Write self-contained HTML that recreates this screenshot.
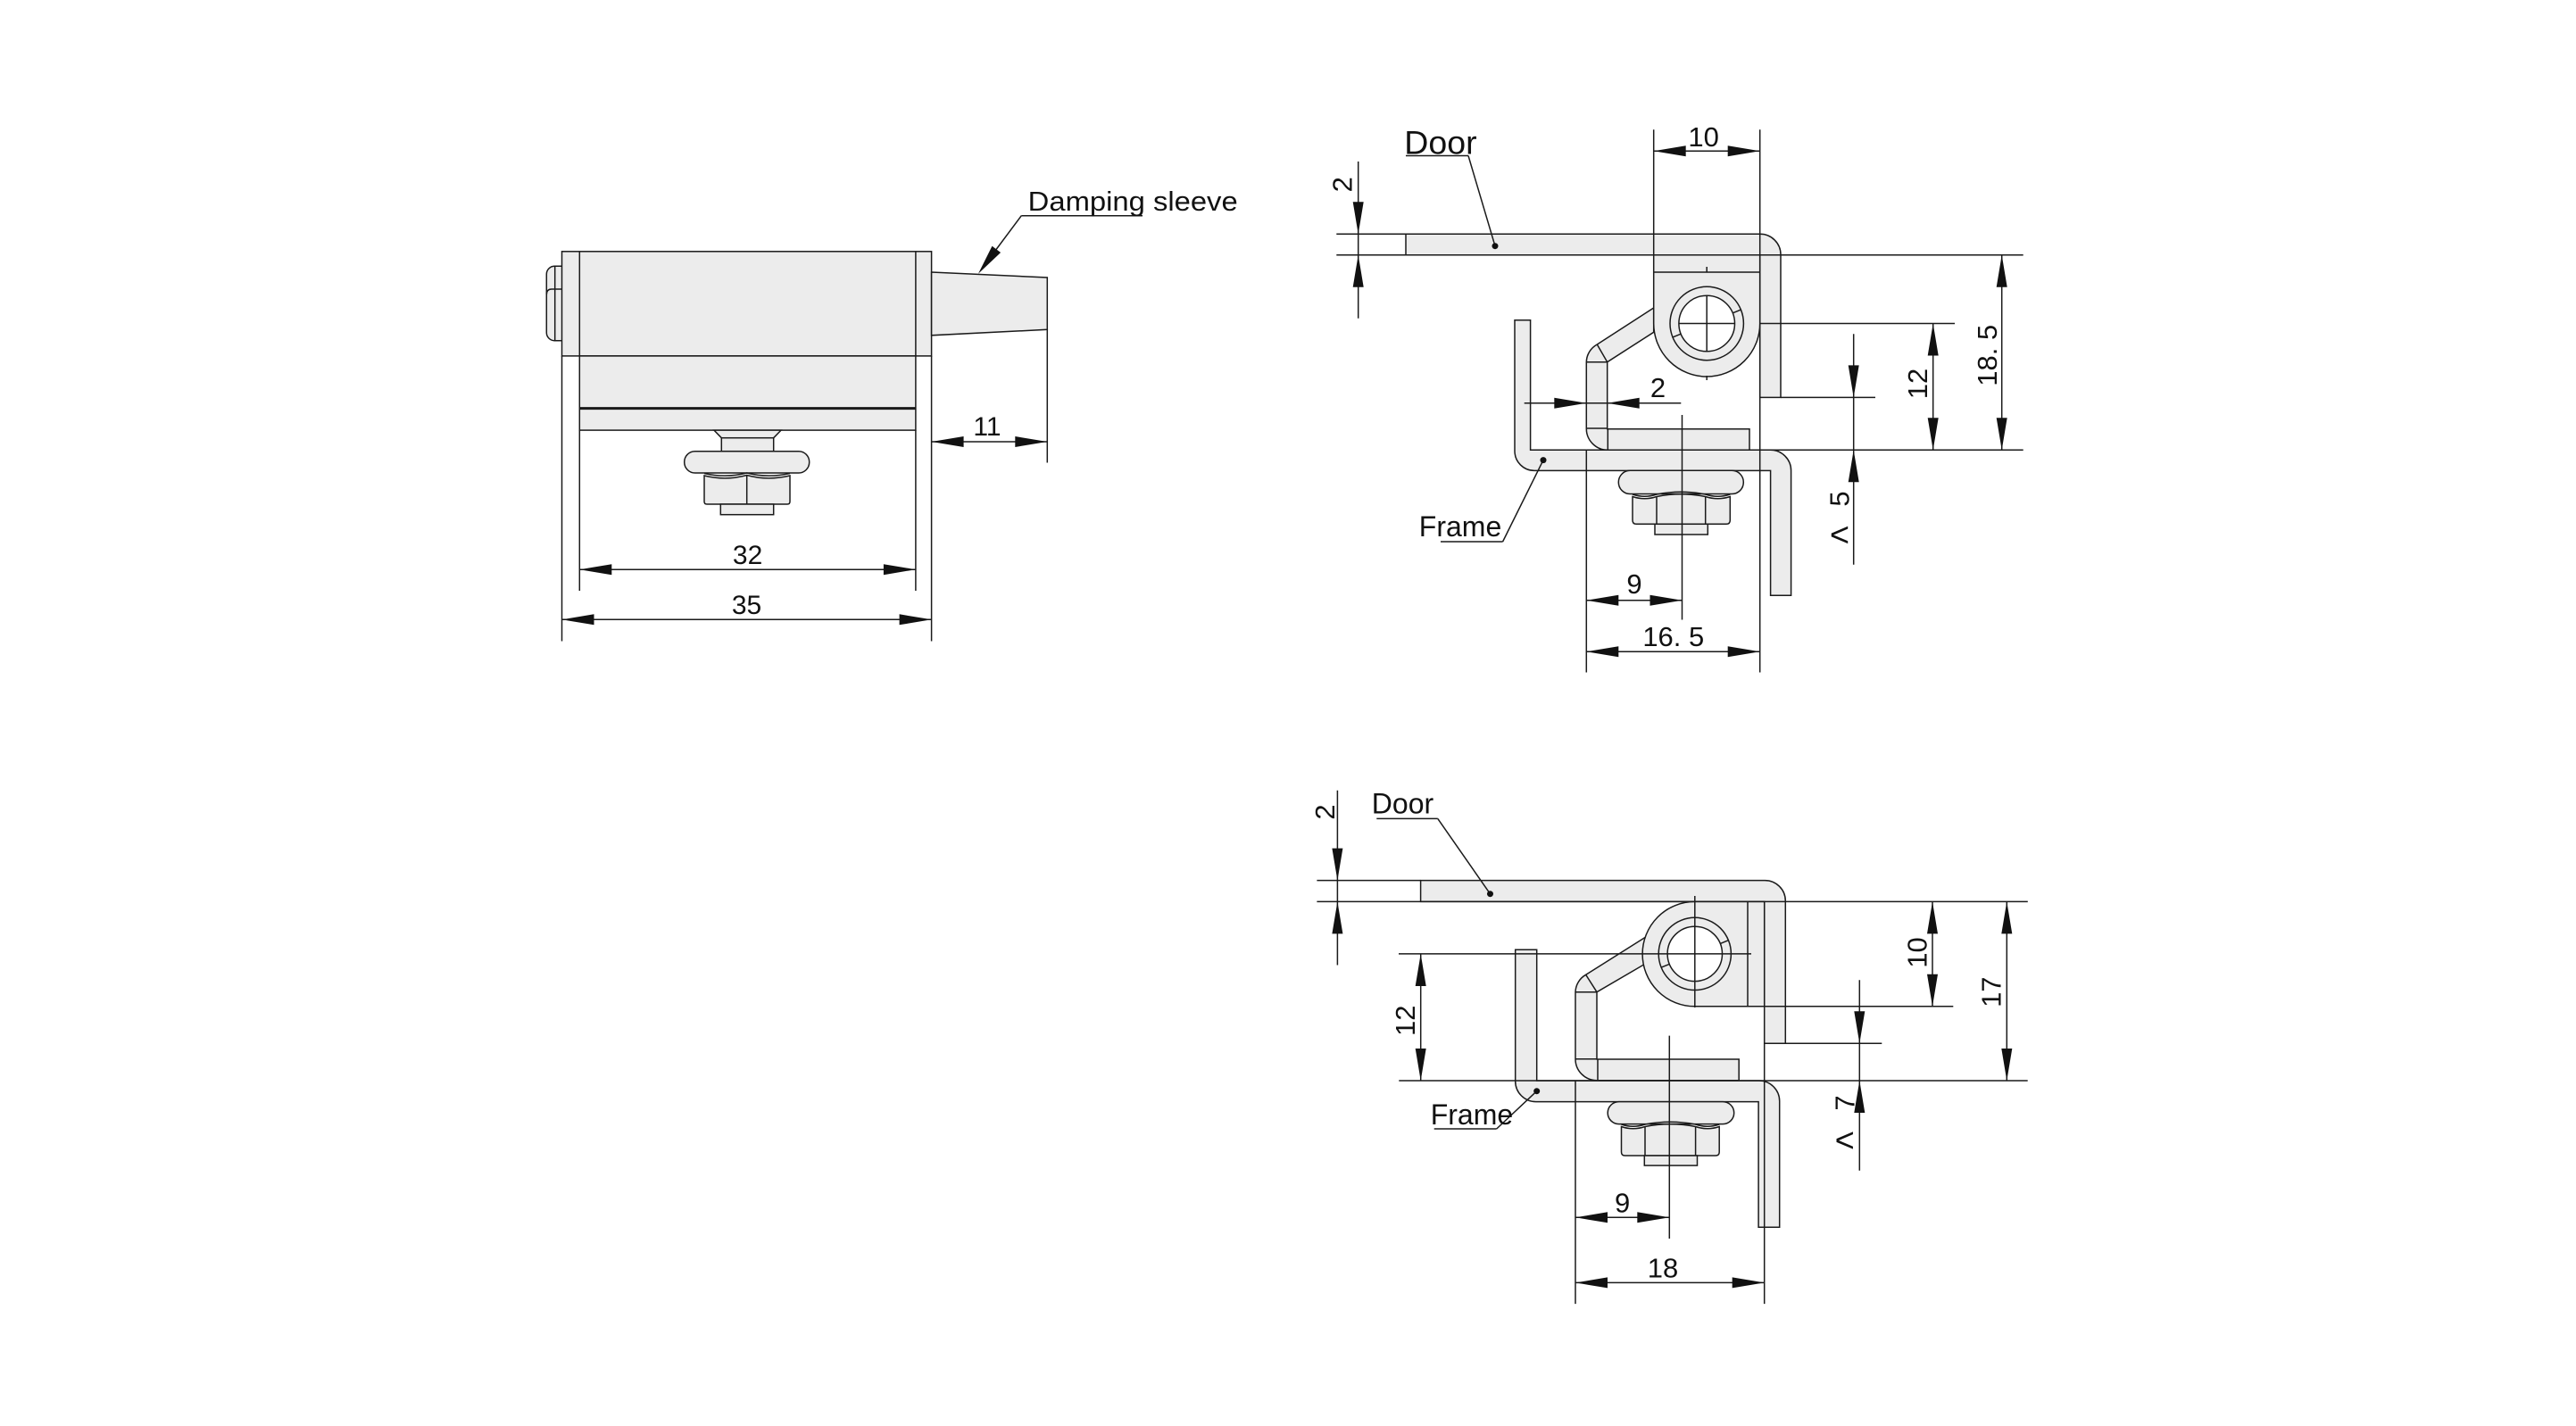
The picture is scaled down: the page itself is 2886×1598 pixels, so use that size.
<!DOCTYPE html>
<html><head><meta charset="utf-8"><style>
html,body{margin:0;padding:0;background:#fff;}
svg{display:block;}
text{font-family:"Liberation Sans",Arial,sans-serif;fill:#111;stroke:none;}
.p{fill:#ececec;stroke:#1a1a1a;stroke-width:1.5;}
.w{fill:#fff;stroke:#1a1a1a;stroke-width:1.5;}
.a{fill:#111;stroke:none;}
.d{font-size:31px;}
.r{font-size:31px;text-anchor:middle;dominant-baseline:central;}
.m{text-anchor:middle;}
</style></head><body>
<svg width="2886" height="1598" viewBox="0 0 2886 1598" xmlns="http://www.w3.org/2000/svg">
<rect x="0" y="0" width="2886" height="1598" fill="#fff"/>

<!-- ================= VIEW 1 ================= -->
<g>
<path class="p" d="M630,298.3 H621 A9,9 0 0 0 612.3,307.3 V372.7 A9,9 0 0 0 621,381.7 H630 Z"/>
<rect class="p" x="629.5" y="281.8" width="414.1" height="117.1"/>
<rect class="p" x="649.3" y="398.9" width="376.6" height="83.2"/>
<polygon class="p" points="1043.6,305 1173.3,311 1173.3,369.3 1043.6,375.8"/>
<!-- nut -->
<polygon class="p" points="800,482.1 875,482.1 866.7,490.7 808.3,490.7"/>
<rect class="p" x="808.3" y="490.7" width="58.4" height="15"/>
<rect class="p" x="766.7" y="505.7" width="140" height="24.3" rx="12" ry="12"/>
<path class="p" d="M789,533 Q813,539 836.7,532.5 Q860,539 885,533 V562 Q885,565 882,565 H792 Q789,565 789,562 Z"/>
<rect class="p" x="807.3" y="565" width="59.4" height="11.7"/>
</g>
<g fill="none" stroke="#1a1a1a" stroke-width="1.5">
<line x1="621.7" y1="298.3" x2="621.7" y2="381.7"/>
<path d="M612.3,330 Q612.3,324 618,324 H630"/>
<line x1="649.3" y1="281.8" x2="649.3" y2="398.9"/>
<line x1="1025.9" y1="281.8" x2="1025.9" y2="398.9"/>
<line x1="649.3" y1="457.6" x2="1025.9" y2="457.6" stroke-width="3"/>
<line x1="629.5" y1="398.9" x2="629.5" y2="718.5"/>
<line x1="1043.6" y1="398.9" x2="1043.6" y2="718.5"/>
<line x1="649.3" y1="482.1" x2="649.3" y2="662"/>
<line x1="1025.9" y1="482.1" x2="1025.9" y2="662"/>
<line x1="1173.3" y1="369.3" x2="1173.3" y2="518.5"/>
<line x1="836.7" y1="532.5" x2="836.7" y2="565"/>
<path d="M789,530.5 Q813,536 836.7,530 Q860,536 885,530.5"/>
<!-- dims -->
<line x1="1043.6" y1="495" x2="1173.3" y2="495"/>
<line x1="649.3" y1="638.2" x2="1025.9" y2="638.2"/>
<line x1="629.5" y1="694.3" x2="1043.6" y2="694.3"/>
<!-- damping leader -->
<line x1="1144.3" y1="241.7" x2="1280" y2="241.7"/>
<line x1="1144.3" y1="241.7" x2="1112" y2="285"/>
</g>
<g class="a">
<polygon points="1043.6,495 1079.6,489 1079.6,501"/>
<polygon points="1173.3,495 1137.3,489 1137.3,501"/>
<polygon points="649.3,638.2 685.3,632.2 685.3,644.2"/>
<polygon points="1025.9,638.2 989.9,632.2 989.9,644.2"/>
<polygon points="629.5,694.3 665.5,688.3 665.5,700.3"/>
<polygon points="1043.6,694.3 1007.6,688.3 1007.6,700.3"/>
<polygon points="1096,306.7 1121.1,283 1111.5,275.8"/>
</g>
<text class="m" x="1106" y="487.8" font-size="30">11</text>
<text class="m" x="837.6" y="631.8" font-size="30">32</text>
<text class="m" x="836.5" y="687.8" font-size="30">35</text>
<text x="1151.7" y="236" font-size="31" textLength="235" lengthAdjust="spacingAndGlyphs">Damping sleeve</text>

<!-- ================= VIEW 2 ================= -->
<g>
<path class="p" d="M1852.7,345 L1789.3,386 A23,23 0 0 0 1777.3,405.7 V480 A24,24 0 0 0 1801.3,504.3 H1960 V480.7 H1800.7 V405.7 L1852.7,372.3 Z"/>
<path class="p" d="M1697,358.7 H1714.6 V504.3 H1983.6 A23,23 0 0 1 2006.6,527.3 V667.2 H1983.6 V527.4 H1719 A22,22 0 0 1 1697,505.4 Z"/>
<path class="p" d="M1575,262.3 H1972 A23,23 0 0 1 1995,285.3 V445.4 H1971.7 V285.7 H1575 Z"/>
<path class="p" d="M1852.7,285.7 H1971.7 V362.5 A59.5,59.5 0 0 1 1852.7,362.5 Z"/>
<circle class="p" cx="1912.2" cy="362.5" r="41.2"/>
<circle class="w" cx="1912.2" cy="362.5" r="31.3"/>
<!-- nut -->
<rect class="p" x="1813.3" y="527.3" width="140" height="26.2" rx="13" ry="13"/>
<path class="p" d="M1829,556.5 Q1842.5,561 1856,556.5 Q1883.5,551 1910.7,556.5 Q1924.5,561 1938.3,556.5 V583 Q1938.3,587.3 1934,587.3 H1833.3 Q1829,587.3 1829,583 Z"/>
<rect class="p" x="1854" y="587.3" width="59.3" height="11.7"/>
</g>
<g fill="none" stroke="#1a1a1a" stroke-width="1.5">
<line x1="1789.3" y1="386" x2="1800.7" y2="405.7"/>
<line x1="1777.3" y1="405.7" x2="1800.7" y2="405.7"/>
<line x1="1777.3" y1="480" x2="1801.3" y2="480"/>
<line x1="1801.3" y1="480.7" x2="1801.3" y2="504.3"/>
<line x1="1852.7" y1="305" x2="1971.7" y2="305"/>
<line x1="1941.2" y1="350.8" x2="1950.4" y2="347.1"/>
<line x1="1883.2" y1="374.2" x2="1874" y2="377.9"/>
<line x1="1880.9" y1="362.5" x2="1943.5" y2="362.5"/>
<line x1="1912.2" y1="331.2" x2="1912.2" y2="393.8"/>
<line x1="1912.2" y1="299" x2="1912.2" y2="305"/>
<line x1="1912.2" y1="421" x2="1912.2" y2="426"/>
<line x1="1856" y1="556.5" x2="1856" y2="587.3"/>
<line x1="1910.7" y1="556.5" x2="1910.7" y2="587.3"/>
<path d="M1829,554 Q1842.5,558.5 1856,554 Q1883.5,548.5 1910.7,554 Q1924.5,558.5 1938.3,554"/>
<line x1="1497.3" y1="262.3" x2="1575" y2="262.3"/>
<line x1="1497.3" y1="285.7" x2="2266.7" y2="285.7"/>
<line x1="1852.7" y1="145.3" x2="1852.7" y2="285.7"/>
<line x1="1971.7" y1="145.3" x2="1971.7" y2="753.5"/>
<line x1="1971.7" y1="362.5" x2="2190" y2="362.5"/>
<line x1="1995" y1="445.4" x2="2101" y2="445.4"/>
<line x1="1714.6" y1="504.3" x2="2266.7" y2="504.3"/>
<line x1="1777.3" y1="504.3" x2="1777.3" y2="753.5"/>
<line x1="1884.5" y1="465" x2="1884.5" y2="694.5"/>
<!-- dims -->
<line x1="1521.7" y1="181" x2="1521.7" y2="356.7"/>
<line x1="1852.7" y1="169.2" x2="1971.7" y2="169.2"/>
<line x1="2165.7" y1="362.5" x2="2165.7" y2="504.3"/>
<line x1="2242.7" y1="285.7" x2="2242.7" y2="504.3"/>
<line x1="2076.7" y1="374.3" x2="2076.7" y2="632.7"/>
<line x1="1707.7" y1="451.7" x2="1883.3" y2="451.7"/>
<line x1="1777.3" y1="672.7" x2="1884.5" y2="672.7"/>
<line x1="1777.3" y1="730.3" x2="1971.7" y2="730.3"/>
<!-- leaders -->
<line x1="1575" y1="174.5" x2="1645" y2="174.5"/>
<line x1="1645" y1="174.5" x2="1675" y2="275.7"/>
<line x1="1614" y1="607" x2="1683.6" y2="607"/>
<line x1="1683.6" y1="607" x2="1729" y2="515.6"/>
</g>
<g class="a">
<circle cx="1675" cy="275.7" r="3.5"/>
<circle cx="1729" cy="515.6" r="3.5"/>
<polygon points="1521.7,262.3 1515.7,226.3 1527.7,226.3"/>
<polygon points="1521.7,285.7 1515.7,321.7 1527.7,321.7"/>
<polygon points="1852.7,169.2 1888.7,163.2 1888.7,175.2"/>
<polygon points="1971.7,169.2 1935.7,163.2 1935.7,175.2"/>
<polygon points="2165.7,362.5 2159.7,398.5 2171.7,398.5"/>
<polygon points="2165.7,504.3 2159.7,468.3 2171.7,468.3"/>
<polygon points="2242.7,285.7 2236.7,321.7 2248.7,321.7"/>
<polygon points="2242.7,504.3 2236.7,468.3 2248.7,468.3"/>
<polygon points="2076.7,445.4 2070.7,409.4 2082.7,409.4"/>
<polygon points="2076.7,504.3 2070.7,540.3 2082.7,540.3"/>
<polygon points="1777.3,451.7 1741.3,445.7 1741.3,457.7"/>
<polygon points="1800.7,451.7 1836.7,445.7 1836.7,457.7"/>
<polygon points="1777.3,672.7 1813.3,666.7 1813.3,678.7"/>
<polygon points="1884.5,672.7 1848.5,666.7 1848.5,678.7"/>
<polygon points="1777.3,730.3 1813.3,724.3 1813.3,736.3"/>
<polygon points="1971.7,730.3 1935.7,724.3 1935.7,736.3"/>
</g>
<text x="1573.3" y="172.3" font-size="37.5">Door</text>
<text x="1589.8" y="601" font-size="32">Frame</text>
<text class="r" transform="translate(1504 206.7) rotate(-90)">2</text>
<text class="m d" x="1908.6" y="164">10</text>
<text class="r" transform="translate(2148.7 430) rotate(-90)">12</text>
<text class="r" transform="translate(2226.7 398.3) rotate(-90)">18. 5</text>
<text class="r" transform="translate(2061 559) rotate(-90)">5</text>
<text class="m" x="2061" y="612" font-size="38">&lt;</text>
<text class="m d" x="1857.5" y="445">2</text>
<text class="m d" x="1831" y="665">9</text>
<text class="m d" x="1874.8" y="724">16. 5</text>

<!-- ================= VIEW 3 ================= -->
<g>
<path class="p" d="M1844,1049.9 L1776.7,1092.3 A23,23 0 0 0 1765,1111.7 V1186.7 A24,24 0 0 0 1789,1210.7 H1948.2 V1187 H1789 V1111.7 L1844,1079.6 Z"/>
<path class="p" d="M1697.7,1064.3 H1721.7 V1211 H1970.7 A23,23 0 0 1 1993.7,1234 V1375.3 H1970.1 V1234.6 H1720.7 A23,23 0 0 1 1697.7,1211.6 Z"/>
<path class="p" d="M1591.6,986.6 H1977.3 A23,23 0 0 1 2000.3,1009.6 V1169.3 H1976.7 V1010.4 H1591.6 Z"/>
<path class="p" d="M1898.8,1010.4 H1976.7 V1127.8 H1898.8 A58.7,58.7 0 0 1 1898.8,1010.4 Z"/>
<circle class="p" cx="1898.8" cy="1068.9" r="40.6"/>
<circle class="w" cx="1898.8" cy="1068.9" r="30.7"/>
<!-- nut -->
<rect class="p" x="1801.2" y="1234.6" width="141.5" height="25" rx="12.5" ry="12.5"/>
<path class="p" d="M1816.5,1262.5 Q1829.5,1267 1843,1262.5 Q1871.3,1257 1899.6,1262.5 Q1913,1267 1926.2,1262.5 V1291 Q1926.2,1295 1922,1295 H1820.5 Q1816.5,1295 1816.5,1291 Z"/>
<rect class="p" x="1842.3" y="1295" width="59.2" height="11.1"/>
</g>
<g fill="none" stroke="#1a1a1a" stroke-width="1.5">
<line x1="1776.7" y1="1092.3" x2="1789" y2="1111.7"/>
<line x1="1765" y1="1111.7" x2="1789" y2="1111.7"/>
<line x1="1765" y1="1186.7" x2="1789" y2="1186.7"/>
<line x1="1790" y1="1187" x2="1790" y2="1210.7"/>
<line x1="1958" y1="1010.4" x2="1958" y2="1127.8"/>
<line x1="1927.3" y1="1057.4" x2="1936.4" y2="1053.7"/>
<line x1="1870.3" y1="1080.4" x2="1861.2" y2="1084.1"/>
<line x1="1898.8" y1="1004" x2="1898.8" y2="1129"/>
<line x1="1567" y1="1068.9" x2="1962" y2="1068.9"/>
<line x1="1843" y1="1262.5" x2="1843" y2="1295"/>
<line x1="1899.6" y1="1262.5" x2="1899.6" y2="1295"/>
<path d="M1816.5,1260 Q1829.5,1264.5 1843,1260 Q1871.3,1254.5 1899.6,1260 Q1913,1264.5 1926.2,1260"/>
<line x1="1475.4" y1="986.6" x2="1591.6" y2="986.6"/>
<line x1="1475.4" y1="1010.4" x2="2271.8" y2="1010.4"/>
<line x1="1870.3" y1="1160.6" x2="1870.3" y2="1388"/>
<line x1="1765" y1="1211" x2="1765" y2="1461.1"/>
<line x1="1976.7" y1="1169.3" x2="1976.7" y2="1461.1"/>
<line x1="1898.8" y1="1127.8" x2="2188.3" y2="1127.8"/>
<line x1="2000.3" y1="1169.3" x2="2108.3" y2="1169.3"/>
<line x1="1567.3" y1="1211" x2="2271.7" y2="1211"/>
<!-- dims -->
<line x1="1498.4" y1="885.8" x2="1498.4" y2="1081.5"/>
<line x1="1591.7" y1="1069" x2="1591.7" y2="1211"/>
<line x1="2165" y1="1010.4" x2="2165" y2="1127.8"/>
<line x1="2248.3" y1="1010.4" x2="2248.3" y2="1211"/>
<line x1="2083.3" y1="1098.3" x2="2083.3" y2="1311.7"/>
<line x1="1765" y1="1364.3" x2="1870.3" y2="1364.3"/>
<line x1="1765" y1="1437.4" x2="1976.7" y2="1437.4"/>
<!-- leaders -->
<line x1="1542.3" y1="917.4" x2="1610.8" y2="917.4"/>
<line x1="1610.8" y1="917.4" x2="1669.5" y2="1001.7"/>
<line x1="1606.7" y1="1265" x2="1676.7" y2="1265"/>
<line x1="1676.7" y1="1265" x2="1721.7" y2="1222.7"/>
</g>
<g class="a">
<circle cx="1669.5" cy="1001.7" r="3.5"/>
<circle cx="1721.7" cy="1222.7" r="3.5"/>
<polygon points="1498.4,986.6 1492.4,950.6 1504.4,950.6"/>
<polygon points="1498.4,1010.4 1492.4,1046.4 1504.4,1046.4"/>
<polygon points="1591.7,1069 1585.7,1105 1597.7,1105"/>
<polygon points="1591.7,1211 1585.7,1175 1597.7,1175"/>
<polygon points="2165,1010.4 2159,1046.4 2171,1046.4"/>
<polygon points="2165,1127.8 2159,1091.8 2171,1091.8"/>
<polygon points="2248.3,1010.4 2242.3,1046.4 2254.3,1046.4"/>
<polygon points="2248.3,1211 2242.3,1175 2254.3,1175"/>
<polygon points="2083.3,1169.3 2077.3,1133.3 2089.3,1133.3"/>
<polygon points="2083.3,1211 2077.3,1247 2089.3,1247"/>
<polygon points="1765,1364.3 1801,1358.3 1801,1370.3"/>
<polygon points="1870.3,1364.3 1834.3,1358.3 1834.3,1370.3"/>
<polygon points="1765,1437.4 1801,1431.4 1801,1443.4"/>
<polygon points="1976.7,1437.4 1940.7,1431.4 1940.7,1443.4"/>
</g>
<text x="1536.8" y="911.5" font-size="32">Door</text>
<text x="1602.7" y="1260" font-size="32">Frame</text>
<text class="r" transform="translate(1484.7 910) rotate(-90)">2</text>
<text class="r" transform="translate(1574.7 1143.8) rotate(-90)">12</text>
<text class="r" transform="translate(2148 1067.5) rotate(-90)">10</text>
<text class="r" transform="translate(2231 1111.7) rotate(-90)">17</text>
<text class="r" transform="translate(2067 1236) rotate(-90)">7</text>
<text class="m" x="2066.7" y="1290.5" font-size="38">&lt;</text>
<text class="m d" x="1817.6" y="1358.3">9</text>
<text class="m d" x="1863" y="1431.5">18</text>
</svg>
</body></html>
